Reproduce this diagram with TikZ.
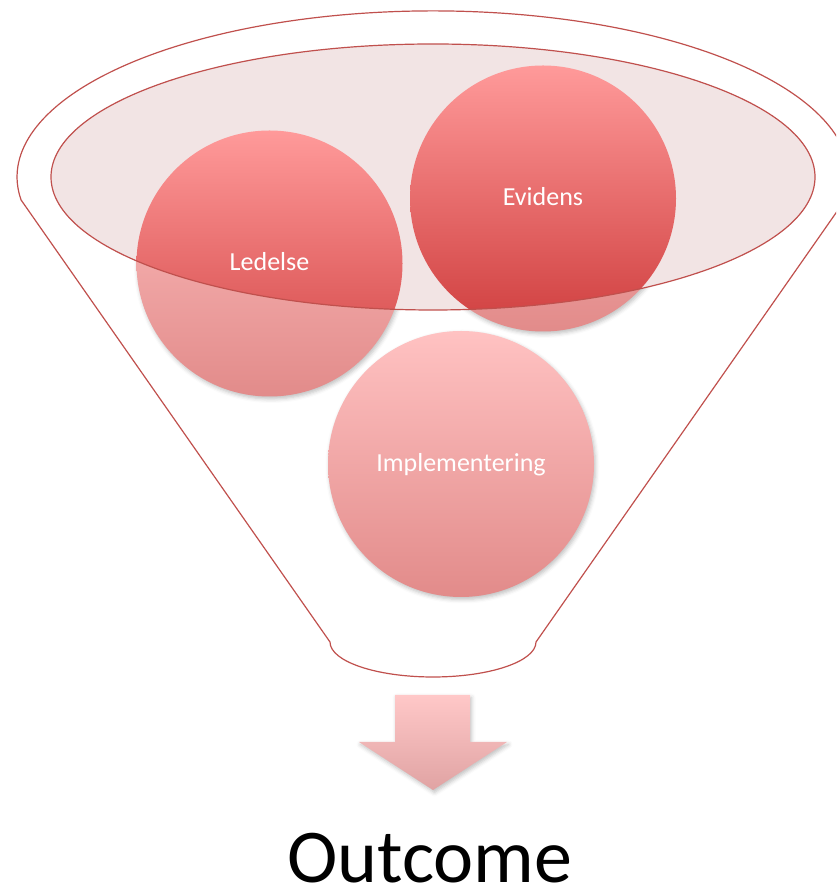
\documentclass[tikz,border=0pt]{standalone}
\usepackage{fontspec}
\setmainfont{Carlito}
\usetikzlibrary{shadows.blur}
\definecolor{rim}{HTML}{C0504D}
\definecolor{lip}{HTML}{F2E4E4}
\definecolor{fullTop}{HTML}{FF9A9A}
\definecolor{fullBot}{HTML}{CF3E3E}
\definecolor{fadeTop}{HTML}{FFC2C2}
\definecolor{fadeBot}{HTML}{E28B8A}
\definecolor{arrTop}{HTML}{FFC8C8}
\definecolor{arrBot}{HTML}{E0A3A3}
\tikzset{
  rimline/.style={draw=rim, line width=1.2pt},
  bubble/.style={circle, minimum size=266pt, inner sep=0pt, draw=none,
    top color=fadeTop, bottom color=fadeBot,
    blur shadow={shadow xshift=1.5pt, shadow yshift=-2.5pt, shadow blur radius=4pt, shadow opacity=25}},
  btext/.style={anchor=base, text=white, font=\fontsize{26}{31}\selectfont, inner sep=0pt},
}
\begin{document}
\begin{tikzpicture}[x=1pt,y=1pt]
\useasboundingbox (0,0) rectangle (836,889);
\clip (0,0) rectangle (836,889);
% funnel outline
\draw[rimline] (536,247) -- (845,689)
  arc[start angle=-8, end angle=188, x radius=416, y radius=166]
  -- (330,247)
  arc[start angle=180, end angle=360, x radius=103, y radius=35] -- cycle;
% faded circles
\node[bubble] (led) at (269.5,625.5) {};
\node[bubble] (evi) at (543,690.5) {};
\node[bubble] (imp) at (461,425) {};
% inner lip fill (covers faded parts and shadows inside the lip)
\fill[lip] (433,712) ellipse[x radius=382, y radius=133];
% full-colour parts inside the lip
\begin{scope}
  \clip (433,712) ellipse[x radius=382, y radius=133];
  \shade[top color=fullTop, bottom color=fullBot] (led.center) circle[radius=133];
  \shade[top color=fullTop, bottom color=fullBot] (evi.center) circle[radius=133];
\end{scope}
% lip outline
\draw[rimline] (433,712) ellipse[x radius=382, y radius=133];
% labels
\node[btext] (ledt) at (269.5,618) {Ledelse};
\node[btext] (evit) at (543,683) {Evidens};
\node[btext] (impt) at (461,417) {Implementering};
% block arrow
\shade[top color=arrTop, bottom color=arrBot,
  blur shadow={shadow xshift=1.5pt, shadow yshift=-2.5pt, shadow blur radius=4pt, shadow opacity=25}]
  (395,194) -- (470,194) -- (470,147) -- (507,147) -- (433,99) -- (359,147) -- (395,147) -- cycle;
% outcome
\node[anchor=base, inner sep=0pt, text depth=0pt, font=\fontsize{76}{90}\selectfont] (out) at (430,6) {Outcome};
\end{tikzpicture}
\end{document}
